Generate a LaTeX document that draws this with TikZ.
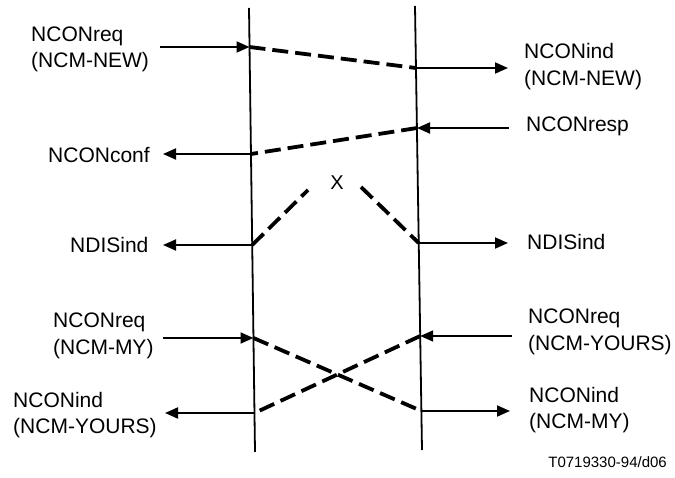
\documentclass[tikz,border=0pt]{standalone}
\usepackage{fontspec}
\setmainfont{Liberation Sans}
\usetikzlibrary{arrows.meta}
\begin{document}
\begin{tikzpicture}[x=1pt,y=-1pt,
  lifeline/.style={line width=1.8pt},
  prim/.style={line width=1.8pt,-{Triangle[length=13pt,width=11pt]}},
  flow/.style={line width=3.8pt,dash pattern=on 16pt off 7pt},
  lbl/.style={font=\fontsize{21}{26.5}\selectfont,inner sep=0pt,anchor=west,align=left},
  foot/.style={font=\fontsize{15}{18}\selectfont,inner sep=0pt,anchor=east}]
\useasboundingbox (0,0) rectangle (675,478);
% lifelines
\coordinate (LT) at (249,8);   \coordinate (LB) at (255,452);
\coordinate (RT) at (415,6);   \coordinate (RB) at (422,450);
\draw[lifeline] (LT) -- (LB);
\draw[lifeline] (RT) -- (RB);
% points on lifelines
\coordinate (L1) at (249.5,47);  \coordinate (R1) at (416,68);
\coordinate (L2) at (251,154);   \coordinate (R2) at (417,128);
\coordinate (L3) at (252.2,245); \coordinate (R3) at (418.7,243);
\coordinate (L4) at (253.5,338); \coordinate (R4) at (420.2,336);
\coordinate (L5) at (254.5,413); \coordinate (R5) at (421.4,411);
% free ends
\coordinate (a1) at (160,47);  \coordinate (b1) at (508,68);
\coordinate (c2) at (509,128); \coordinate (d2) at (163,154);
\coordinate (d3) at (163,245); \coordinate (b3) at (508,243);
\coordinate (a4) at (163,338); \coordinate (c4) at (512,336);
\coordinate (d5) at (165,413); \coordinate (b5) at (510,411);
\coordinate (X1) at (308,190); \coordinate (X2) at (361,187);
% primitives
\draw[prim] (a1) -- (L1);
\draw[prim] (R1) -- (b1);
\draw[prim] (c2) -- (R2);
\draw[prim] (L2) -- (d2);
\draw[prim] (L3) -- (d3);
\draw[prim] (R3) -- (b3);
\draw[prim] (a4) -- (L4);
\draw[prim] (c4) -- (R4);
\draw[prim] (L5) -- (d5);
\draw[prim] (R5) -- (b5);
% flows
\draw[flow] (L1) -- (R1);
\draw[flow] (R2) -- (L2);
\draw[flow] (L3) -- (X1);
\draw[flow] (X2) -- (R3);
\draw[flow] (L4) -- (R5);
\draw[flow] (R4) -- (L5);
% labels
\node[lbl] (t1) at (31,49.5) {NCONreq\\(NCM-NEW)};
\node[lbl] (t2) at (524,66.5) {NCONind\\(NCM-NEW)};
\node[lbl] (t3) at (48,155) {NCONconf};
\node[lbl] (t4) at (526,126) {NCONresp};
\node[lbl] (t5) at (70,245) {NDISind};
\node[lbl] (t6) at (527,242) {NDISind};
\node[lbl] (t7) at (53,336) {NCONreq\\(NCM-MY)};
\node[lbl] (t8) at (528,332) {NCONreq\\(NCM-YOURS)};
\node[lbl] (t9) at (13,415) {NCONind\\(NCM-YOURS)};
\node[lbl] (t10) at (529,410) {NCONind\\(NCM-MY)};
\node[font=\fontsize{20}{22}\selectfont,inner sep=0pt] (xx) at (337,183) {X};
\node[foot] (ft) at (667,462) {T0719330-94/d06};
\end{tikzpicture}
\end{document}
